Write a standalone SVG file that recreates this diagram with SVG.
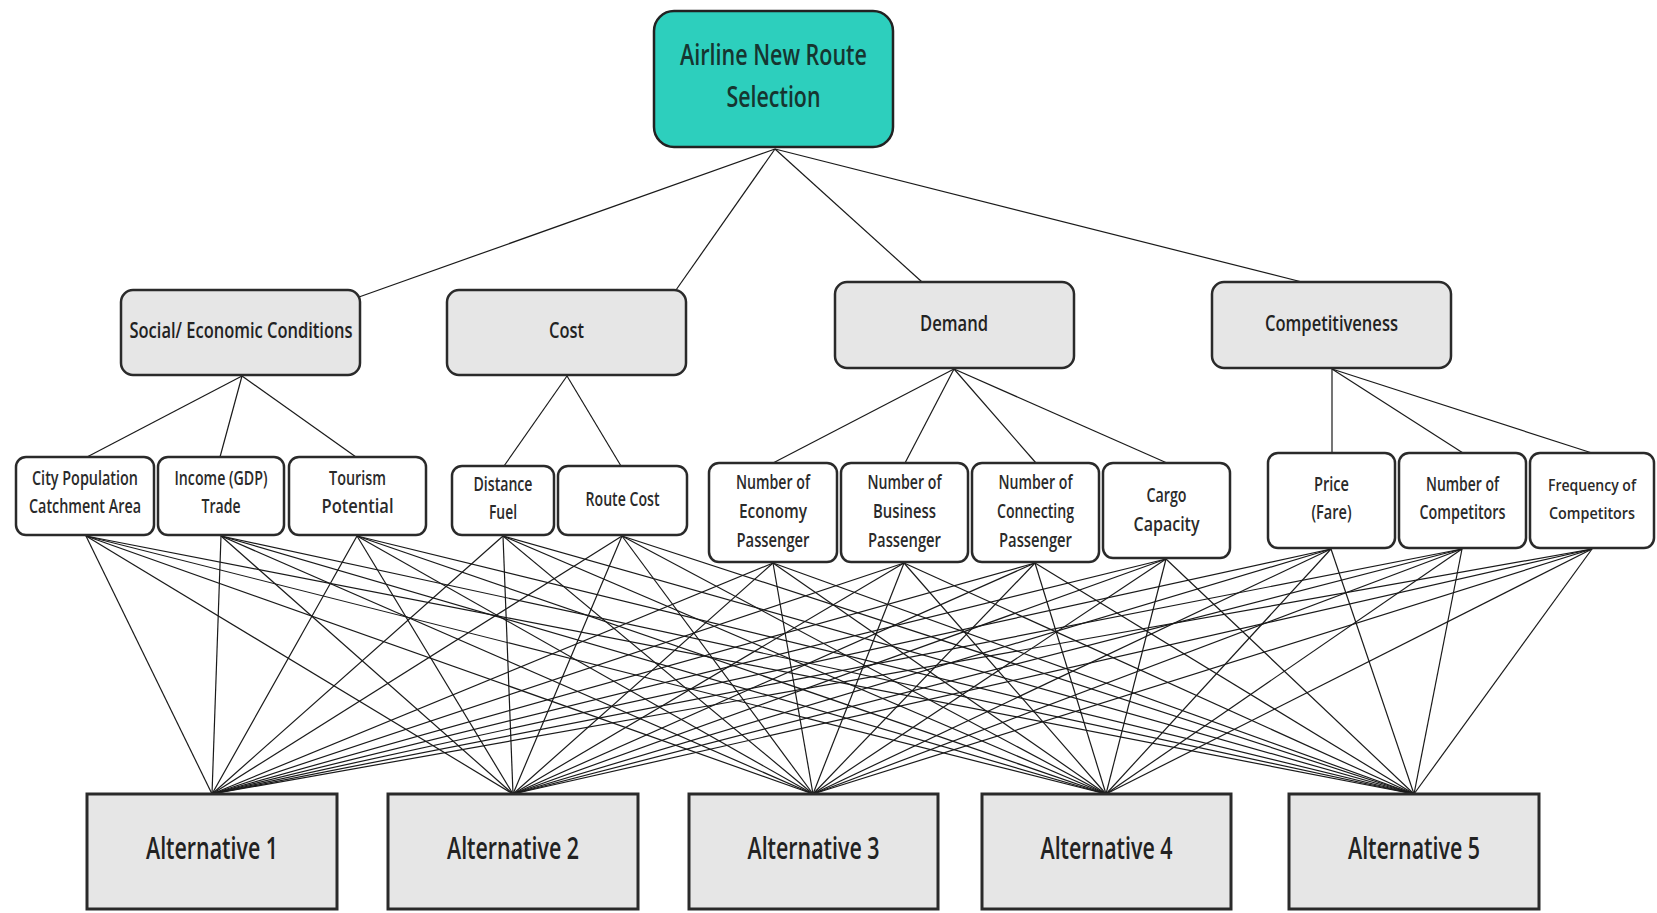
<svg xmlns="http://www.w3.org/2000/svg" width="1657" height="913" viewBox="0 0 1657 913">
<style>
text{font-family:"Open Sans","Liberation Sans",sans-serif;font-weight:600;fill:#222;text-anchor:middle}
.goal{fill:#2dcfbd;stroke:#222;stroke-width:2.5}
.crit{fill:#e6e6e6;stroke:#2a2a2a;stroke-width:2.5}
.sub{fill:#fff;stroke:#2a2a2a;stroke-width:2.5}
.alt{fill:#e6e6e6;stroke:#2a2a2a;stroke-width:3}
.t1{font-size:29px;fill:#163530}
.t2{font-size:21px}
.t3{font-size:19px;fill:#2a2a2a}
.t3s{font-size:17px}
.t4{font-size:30px}
#connectors line{stroke:#1a1a1a;stroke-width:1.2}
</style>
<rect width="1657" height="913" fill="#fff"/>
<g id="connectors">
<line x1="775" y1="149" x2="359" y2="297"/>
<line x1="775" y1="149" x2="676" y2="290"/>
<line x1="775" y1="149" x2="922" y2="282"/>
<line x1="775" y1="149" x2="1302" y2="282"/>
<line x1="242" y1="376" x2="87" y2="457"/>
<line x1="242" y1="376" x2="220" y2="457"/>
<line x1="242" y1="376" x2="356" y2="457"/>
<line x1="567" y1="376" x2="504" y2="466"/>
<line x1="567" y1="376" x2="621" y2="466"/>
<line x1="954" y1="369" x2="773" y2="463"/>
<line x1="954" y1="369" x2="905" y2="463"/>
<line x1="954" y1="369" x2="1036" y2="463"/>
<line x1="954" y1="369" x2="1167" y2="463"/>
<line x1="1332" y1="369" x2="1332" y2="453"/>
<line x1="1332" y1="369" x2="1463" y2="453"/>
<line x1="1332" y1="369" x2="1592" y2="453"/>
<line x1="86" y1="536" x2="212" y2="794"/><line x1="86" y1="536" x2="513" y2="794"/><line x1="86" y1="536" x2="813" y2="794"/><line x1="86" y1="536" x2="1106" y2="794"/><line x1="86" y1="536" x2="1414" y2="794"/>
<line x1="221" y1="536" x2="212" y2="794"/><line x1="221" y1="536" x2="513" y2="794"/><line x1="221" y1="536" x2="813" y2="794"/><line x1="221" y1="536" x2="1106" y2="794"/><line x1="221" y1="536" x2="1414" y2="794"/>
<line x1="357" y1="536" x2="212" y2="794"/><line x1="357" y1="536" x2="513" y2="794"/><line x1="357" y1="536" x2="813" y2="794"/><line x1="357" y1="536" x2="1106" y2="794"/><line x1="357" y1="536" x2="1414" y2="794"/>
<line x1="503" y1="536" x2="212" y2="794"/><line x1="503" y1="536" x2="513" y2="794"/><line x1="503" y1="536" x2="813" y2="794"/><line x1="503" y1="536" x2="1106" y2="794"/><line x1="503" y1="536" x2="1414" y2="794"/>
<line x1="622" y1="536" x2="212" y2="794"/><line x1="622" y1="536" x2="513" y2="794"/><line x1="622" y1="536" x2="813" y2="794"/><line x1="622" y1="536" x2="1106" y2="794"/><line x1="622" y1="536" x2="1414" y2="794"/>
<line x1="773" y1="563" x2="212" y2="794"/><line x1="773" y1="563" x2="513" y2="794"/><line x1="773" y1="563" x2="813" y2="794"/><line x1="773" y1="563" x2="1106" y2="794"/><line x1="773" y1="563" x2="1414" y2="794"/>
<line x1="904" y1="563" x2="212" y2="794"/><line x1="904" y1="563" x2="513" y2="794"/><line x1="904" y1="563" x2="813" y2="794"/><line x1="904" y1="563" x2="1106" y2="794"/><line x1="904" y1="563" x2="1414" y2="794"/>
<line x1="1035" y1="563" x2="212" y2="794"/><line x1="1035" y1="563" x2="513" y2="794"/><line x1="1035" y1="563" x2="813" y2="794"/><line x1="1035" y1="563" x2="1106" y2="794"/><line x1="1035" y1="563" x2="1414" y2="794"/>
<line x1="1166" y1="559" x2="212" y2="794"/><line x1="1166" y1="559" x2="513" y2="794"/><line x1="1166" y1="559" x2="813" y2="794"/><line x1="1166" y1="559" x2="1106" y2="794"/><line x1="1166" y1="559" x2="1414" y2="794"/>
<line x1="1331" y1="549" x2="212" y2="794"/><line x1="1331" y1="549" x2="513" y2="794"/><line x1="1331" y1="549" x2="813" y2="794"/><line x1="1331" y1="549" x2="1106" y2="794"/><line x1="1331" y1="549" x2="1414" y2="794"/>
<line x1="1462" y1="549" x2="212" y2="794"/><line x1="1462" y1="549" x2="513" y2="794"/><line x1="1462" y1="549" x2="813" y2="794"/><line x1="1462" y1="549" x2="1106" y2="794"/><line x1="1462" y1="549" x2="1414" y2="794"/>
<line x1="1592" y1="549" x2="212" y2="794"/><line x1="1592" y1="549" x2="513" y2="794"/><line x1="1592" y1="549" x2="813" y2="794"/><line x1="1592" y1="549" x2="1106" y2="794"/><line x1="1592" y1="549" x2="1414" y2="794"/>
</g>
<g id="goal"><rect class="goal" x="654" y="11" width="239" height="136" rx="20"/>
<text class="t1" x="773.5" y="65" textLength="187" lengthAdjust="spacingAndGlyphs">Airline New Route</text>
<text class="t1" x="773.5" y="107" textLength="94" lengthAdjust="spacingAndGlyphs">Selection</text></g>
<g id="social"><rect class="crit" x="121" y="290" width="239" height="85" rx="12"/>
<text class="t2" x="241" y="338" textLength="223" lengthAdjust="spacingAndGlyphs">Social/ Economic Conditions</text></g>
<g id="cost"><rect class="crit" x="447" y="290" width="239" height="85" rx="12"/>
<text class="t2" x="566.5" y="338" textLength="35" lengthAdjust="spacingAndGlyphs">Cost</text></g>
<g id="demand"><rect class="crit" x="835" y="282" width="239" height="86" rx="12"/>
<text class="t2" x="954" y="331" textLength="68" lengthAdjust="spacingAndGlyphs">Demand</text></g>
<g id="competitiveness"><rect class="crit" x="1212" y="282" width="239" height="86" rx="12"/>
<text class="t2" x="1331.5" y="331" textLength="133" lengthAdjust="spacingAndGlyphs">Competitiveness</text></g>
<g id="city"><rect class="sub" x="16" y="457" width="138" height="78" rx="10"/>
<text class="t3" x="85" y="485" textLength="106" lengthAdjust="spacingAndGlyphs">City Population</text>
<text class="t3" x="85" y="513" textLength="112" lengthAdjust="spacingAndGlyphs">Catchment Area</text></g>
<g id="income"><rect class="sub" x="158" y="457" width="126" height="78" rx="10"/>
<text class="t3" x="221" y="485" textLength="93" lengthAdjust="spacingAndGlyphs">Income (GDP)</text>
<text class="t3" x="221" y="513" textLength="39" lengthAdjust="spacingAndGlyphs">Trade</text></g>
<g id="tourism"><rect class="sub" x="289" y="457" width="137" height="78" rx="10"/>
<text class="t3" x="357.5" y="485" textLength="57" lengthAdjust="spacingAndGlyphs">Tourism</text>
<text class="t3" x="357.5" y="513" textLength="72" lengthAdjust="spacingAndGlyphs">Potential</text></g>
<g id="distance"><rect class="sub" x="452" y="466" width="102" height="69" rx="10"/>
<text class="t3" x="503" y="491" textLength="59" lengthAdjust="spacingAndGlyphs">Distance</text>
<text class="t3" x="503" y="519" textLength="28" lengthAdjust="spacingAndGlyphs">Fuel</text></g>
<g id="routecost"><rect class="sub" x="558" y="466" width="129" height="69" rx="10"/>
<text class="t3" x="622.5" y="506" textLength="74" lengthAdjust="spacingAndGlyphs">Route Cost</text></g>
<g id="economy"><rect class="sub" x="709" y="463" width="128" height="99" rx="10"/>
<text class="t3" x="773" y="489" textLength="74" lengthAdjust="spacingAndGlyphs">Number of</text>
<text class="t3" x="773" y="518" textLength="68" lengthAdjust="spacingAndGlyphs">Economy</text>
<text class="t3" x="773" y="547" textLength="73" lengthAdjust="spacingAndGlyphs">Passenger</text></g>
<g id="business"><rect class="sub" x="841" y="463" width="127" height="99" rx="10"/>
<text class="t3" x="904.5" y="489" textLength="74" lengthAdjust="spacingAndGlyphs">Number of</text>
<text class="t3" x="904.5" y="518" textLength="63" lengthAdjust="spacingAndGlyphs">Business</text>
<text class="t3" x="904.5" y="547" textLength="73" lengthAdjust="spacingAndGlyphs">Passenger</text></g>
<g id="connecting"><rect class="sub" x="972" y="463" width="127" height="99" rx="10"/>
<text class="t3" x="1035.5" y="489" textLength="74" lengthAdjust="spacingAndGlyphs">Number of</text>
<text class="t3" x="1035.5" y="518" textLength="77" lengthAdjust="spacingAndGlyphs">Connecting</text>
<text class="t3" x="1035.5" y="547" textLength="73" lengthAdjust="spacingAndGlyphs">Passenger</text></g>
<g id="cargo"><rect class="sub" x="1103" y="463" width="127" height="95" rx="10"/>
<text class="t3" x="1166.5" y="502" textLength="40" lengthAdjust="spacingAndGlyphs">Cargo</text>
<text class="t3" x="1166.5" y="531" textLength="66" lengthAdjust="spacingAndGlyphs">Capacity</text></g>
<g id="price"><rect class="sub" x="1268" y="453" width="127" height="95" rx="10"/>
<text class="t3" x="1331.5" y="491" textLength="35" lengthAdjust="spacingAndGlyphs">Price</text>
<text class="t3" x="1331.5" y="519" textLength="40" lengthAdjust="spacingAndGlyphs">(Fare)</text></g>
<g id="numcompetitors"><rect class="sub" x="1399" y="453" width="127" height="95" rx="10"/>
<text class="t3" x="1462.5" y="491" textLength="73" lengthAdjust="spacingAndGlyphs">Number of</text>
<text class="t3" x="1462.5" y="519" textLength="86" lengthAdjust="spacingAndGlyphs">Competitors</text></g>
<g id="freqcompetitors"><rect class="sub" x="1530" y="453" width="124" height="95" rx="10"/>
<text class="t3 t3s" x="1592" y="491" textLength="88" lengthAdjust="spacingAndGlyphs">Frequency of</text>
<text class="t3 t3s" x="1592" y="519" textLength="86" lengthAdjust="spacingAndGlyphs">Competitors</text></g>
<g id="alt1"><rect class="alt" x="87" y="794" width="250" height="115"/>
<text class="t4" x="212" y="859" textLength="132" lengthAdjust="spacingAndGlyphs">Alternative 1</text></g>
<g id="alt2"><rect class="alt" x="388" y="794" width="250" height="115"/>
<text class="t4" x="513" y="859" textLength="132" lengthAdjust="spacingAndGlyphs">Alternative 2</text></g>
<g id="alt3"><rect class="alt" x="689" y="794" width="249" height="115"/>
<text class="t4" x="813.5" y="859" textLength="132" lengthAdjust="spacingAndGlyphs">Alternative 3</text></g>
<g id="alt4"><rect class="alt" x="982" y="794" width="249" height="115"/>
<text class="t4" x="1106.5" y="859" textLength="132" lengthAdjust="spacingAndGlyphs">Alternative 4</text></g>
<g id="alt5"><rect class="alt" x="1289" y="794" width="250" height="115"/>
<text class="t4" x="1414" y="859" textLength="132" lengthAdjust="spacingAndGlyphs">Alternative 5</text></g>
</svg>
